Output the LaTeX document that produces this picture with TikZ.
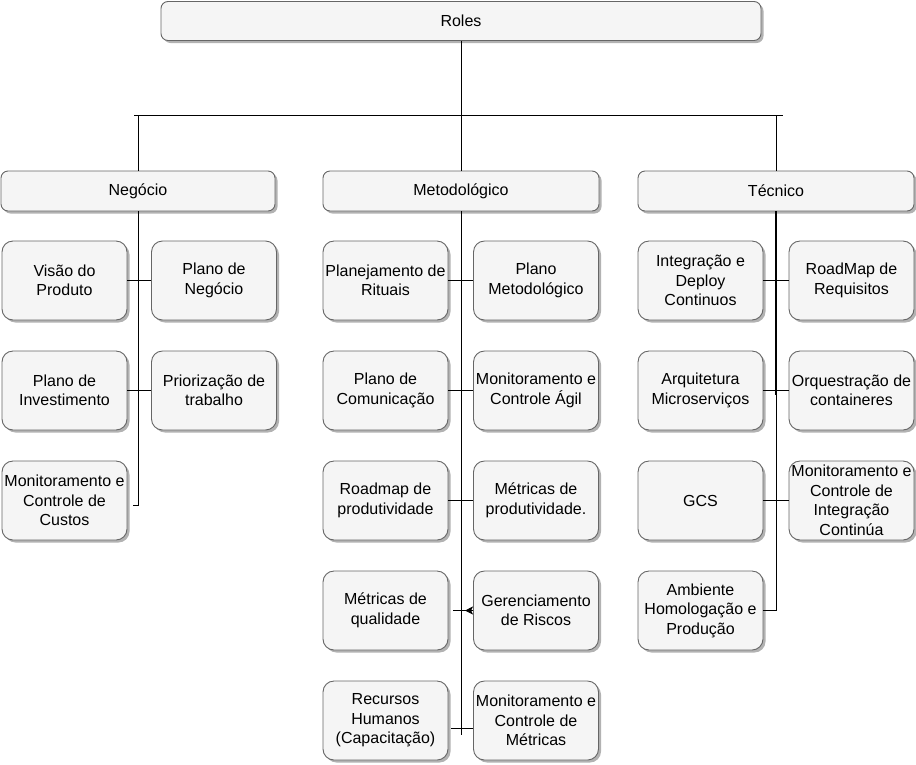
\documentclass[tikz,border=0pt]{standalone}
\usepackage{fontspec}
\setmainfont{Liberation Sans}
\usetikzlibrary{shadows,arrows.meta}
\definecolor{boxfill}{HTML}{F5F5F5}
\definecolor{boxline}{HTML}{666666}
\tikzset{
  basebox/.style={draw=boxline, fill=boxfill, line width=0.9pt, align=center, inner sep=0pt,
    font=\fontsize{16pt}{19.5pt}\selectfont,
    drop shadow={shadow xshift=2.5pt, shadow yshift=-2.5pt, fill=black, opacity=0.3}},
  headbox/.style={basebox, rounded corners=7pt, minimum height=39pt},
  childbox/.style={basebox, rounded corners=11pt, minimum width=125pt, minimum height=79pt},
  conn/.style={draw=black, line width=0.9pt},
}
\begin{document}
\begin{tikzpicture}[x=1pt,y=-1pt]
\useasboundingbox (0,0) rectangle (916,764);
% headers
\node[headbox, minimum width=600pt] (roles) at (461,21) {Roles};
\node[headbox, minimum width=274pt, minimum height=40pt] (neg) at (138,191) {Negócio};
\node[headbox, minimum width=276pt, minimum height=40pt] (met) at (461,191) {Metodológico};
\node[headbox, minimum width=276pt, minimum height=40pt] (tec) at (776,191) {Técnico};
% Negocio column
\node[childbox] (n1l) at (64.5,280.5) {Visão do\\Produto};
\node[childbox] (n1r) at (214,280.5) {Plano de\\Negócio};
\node[childbox] (n2l) at (64.5,390.5) {Plano de\\Investimento};
\node[childbox] (n2r) at (214,390.5) {Priorização de\\trabalho};
\node[childbox] (n3l) at (64.5,500.5) {Monitoramento e\\Controle de\\Custos};
% Metodologico column
\node[childbox] (m1l) at (385.5,280.5) {Planejamento de\\Rituais};
\node[childbox] (m1r) at (536,280.5) {Plano\\Metodológico};
\node[childbox] (m2l) at (385.5,390.5) {Plano de\\Comunicação};
\node[childbox] (m2r) at (536,390.5) {Monitoramento e\\Controle Ágil};
\node[childbox] (m3l) at (385.5,500.5) {Roadmap de\\produtividade};
\node[childbox] (m3r) at (536,500.5) {Métricas de\\produtividade.};
\node[childbox] (m4l) at (385.5,610.5) {Métricas de\\qualidade};
\node[childbox] (m4r) at (536,610.5) {Gerenciamento\\de Riscos};
\node[childbox] (m5l) at (385.5,720.5) {Recursos\\Humanos\\(Capacitação)};
\node[childbox] (m5r) at (536,720.5) {Monitoramento e\\Controle de\\Métricas};
% Tecnico column
\node[childbox] (t1l) at (700.5,280.5) {Integração e\\Deploy\\Continuos};
\node[childbox] (t1r) at (851.5,280.5) {RoadMap de\\Requisitos};
\node[childbox] (t2l) at (700.5,390.5) {Arquitetura\\Microserviços};
\node[childbox] (t2r) at (851.5,390.5) {Orquestração de\\containeres};
\node[childbox] (t3l) at (700.5,500.5) {GCS};
\node[childbox] (t3r) at (851.5,500.5) {Monitoramento e\\Controle de\\Integração\\Continúa};
\node[childbox] (t4l) at (700.5,610.5) {Ambiente\\Homologação e\\Produção};
% coordinates
\coordinate (barL) at (134,115);
\coordinate (barR) at (783,115);
\coordinate (negEnd) at (138,505);
\coordinate (negTick) at (133,505);
\coordinate (metEnd) at (461,735);
\coordinate (m4end) at (453,610.5);
\coordinate (m4tip) at (465,610.5);
\coordinate (m5end) at (451,728);
\coordinate (tecThick) at (775,395);
% top connectors
\draw[conn] (roles.south) -- (met.north);
\draw[conn] (barL) -- (barR);
\draw[conn] (neg.north |- barL) -- (neg.north);
\draw[conn] (tec.north |- barL) -- (tec.north);
% Negocio connectors
\draw[conn] (neg.south) -- (negEnd) -- (negTick);
\draw[conn] (n1l.east) -- (n1r.west);
\draw[conn] (n2l.east) -- (n2r.west);
% Metodologico connectors
\draw[conn] (met.south) -- (metEnd);
\draw[conn] (m1l.east) -- (m1r.west);
\draw[conn] (m2l.east) -- (m2r.west);
\draw[conn] (m3l.east) -- (m3r.west);
\draw[conn] (m4r.west) -- (m4end);
\draw[conn, -{Stealth[length=8pt,width=8pt,inset=2pt]}] (m4r.west) -- (m4tip);
\draw[conn] (m5r.west |- m5end) -- (m5end);
% Tecnico connectors
\draw[conn] (tec.south) -- (tec.south |- t4l.east) -- (t4l.east);
\draw[conn] ([xshift=-1pt]tec.south) -- (tecThick);
\draw[conn] (t1l.east) -- (t1r.west);
\draw[conn] (t2l.east) -- (t2r.west);
\draw[conn] (t3l.east) -- (t3r.west);
\end{tikzpicture}
\end{document}
